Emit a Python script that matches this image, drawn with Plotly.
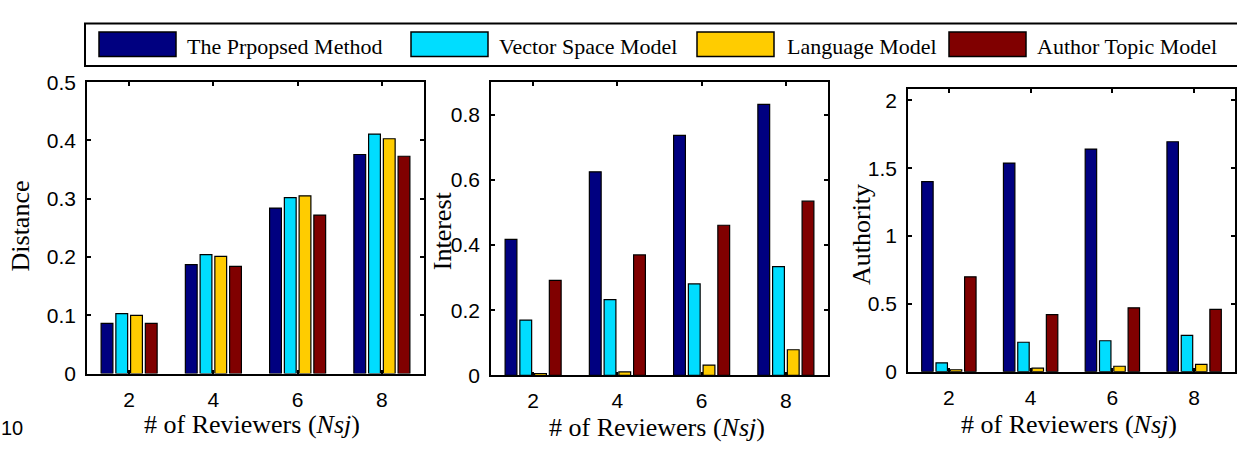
import plotly.graph_objects as go

reviewers = [2, 4, 6, 8]
series_names = ["The Prpopsed Method", "Vector Space Model", "Language Model", "Author Topic Model"]
series_colors = ["#000080", "#00DDFF", "#FFCC00", "#800000"]

distance_proposed = [0.086, 0.187, 0.284, 0.376]
distance_vsm = [0.103, 0.204, 0.302, 0.411]
distance_lm = [0.100, 0.201, 0.305, 0.403]
distance_atm = [0.086, 0.184, 0.272, 0.373]

interest_proposed = [0.418, 0.625, 0.737, 0.832]
interest_vsm = [0.170, 0.233, 0.281, 0.334]
interest_lm = [0.006, 0.011, 0.032, 0.079]
interest_atm = [0.292, 0.370, 0.461, 0.535]

authority_proposed = [1.401, 1.538, 1.641, 1.695]
authority_vsm = [0.065, 0.217, 0.228, 0.268]
authority_lm = [0.014, 0.026, 0.040, 0.054]
authority_atm = [0.699, 0.420, 0.471, 0.459]

y_titles = ["Distance", "Interest", "Authority"]
x_title = "# of Reviewers (<i>Nsj</i>)"
y_ticks = [[0, 0.1, 0.2, 0.3, 0.4, 0.5], [0, 0.2, 0.4, 0.6, 0.8], [0, 0.5, 1, 1.5, 2]]
y_ticktext = [["0", "0.1", "0.2", "0.3", "0.4", "0.5"], ["0", "0.2", "0.4", "0.6", "0.8"], ["0", "0.5", "1", "1.5", "2"]]
y_ranges = [[0, 0.5], [0, 0.9], [0, 2.085]]

panels = [
    [distance_proposed, distance_vsm, distance_lm, distance_atm],
    [interest_proposed, interest_vsm, interest_lm, interest_atm],
    [authority_proposed, authority_vsm, authority_lm, authority_atm],
]

W, H = 1237, 451
def px(x):
    return x / W
def py(y):
    return 1 - y / H

fig = go.Figure()
xdoms = [(87, 424), (491, 828), (908, 1235)]
ydoms = [(74, 381), (74, 383), (81, 379)]

for p, data in enumerate(panels):
    xa = "x" if p == 0 else f"x{p+1}"
    ya = "y" if p == 0 else f"y{p+1}"
    for s, vals in enumerate(data):
        fig.add_trace(go.Bar(
            x=reviewers, y=vals, name=series_names[s], xaxis=xa, yaxis=ya,
            marker=dict(color=series_colors[s], line=dict(color="black", width=1.2)),
            showlegend=False,
        ))

tickfont = dict(family="Liberation Sans, Arial", size=21, color="black")
axis_common = dict(showline=True, linecolor="black", linewidth=1.6, mirror="allticks",
                   ticks="inside", ticklen=4, tickwidth=1.5, tickcolor="black",
                   showgrid=False, zeroline=False, tickfont=tickfont)

layout = dict(
    width=W, height=H, margin=dict(l=0, r=0, t=0, b=0),
    paper_bgcolor="white", plot_bgcolor="white",
    barmode="group", bargap=0.3, bargroupgap=0.2,
    showlegend=False,
)
for p in range(3):
    xk = "xaxis" if p == 0 else f"xaxis{p+1}"
    yk = "yaxis" if p == 0 else f"yaxis{p+1}"
    ax = "x" if p == 0 else f"x{p+1}"
    ay = "y" if p == 0 else f"y{p+1}"
    layout[xk] = dict(domain=[px(xdoms[p][0]), px(xdoms[p][1])], range=[1, 9],
                      tickvals=reviewers, ticktext=[str(r) for r in reviewers],
                      anchor=ay, ticklabelstandoff=6, **axis_common)
    layout[yk] = dict(domain=[py(ydoms[p][1]), py(ydoms[p][0])], range=y_ranges[p],
                      tickvals=y_ticks[p], ticktext=y_ticktext[p],
                      anchor=ax, ticklabelstandoff=5, **axis_common)
fig.update_layout(**layout)

serif = "Liberation Serif, Times New Roman"
annotations = []
ytitle_pos = [(20, 226), (442, 231), (861, 235)]
xtitle_pos = [(252, 435), (657, 438), (1069, 435)]
for p in range(3):
    annotations.append(dict(x=px(ytitle_pos[p][0]), y=py(ytitle_pos[p][1]), xref="paper", yref="paper",
                            text=y_titles[p], textangle=-90, showarrow=False,
                            font=dict(family=serif, size=26, color="black"),
                            xanchor="center", yanchor="middle", borderpad=0))
    annotations.append(dict(x=px(xtitle_pos[p][0]), y=py(xtitle_pos[p][1]), xref="paper", yref="paper",
                            text=x_title, showarrow=False,
                            font=dict(family=serif, size=26, color="black"),
                            xanchor="center", yanchor="middle", borderpad=0))
# stray exponent label at bottom-left
annotations.append(dict(x=0, y=0, xref="paper", yref="paper", text="10", showarrow=False,
                        font=dict(family="Liberation Sans, Arial", size=20, color="black"),
                        xanchor="left", yanchor="bottom", borderpad=0))

# legend drawn manually
shapes = [dict(type="rect", xref="paper", yref="paper", x0=px(85), x1=px(1240), y0=py(57), y1=py(12),
               line=dict(color="black", width=2), fillcolor="rgba(0,0,0,0)")]
swatch_x = [99, 411, 697, 949]
text_x = [185, 497, 785, 1035]
for s in range(4):
    shapes.append(dict(type="rect", xref="paper", yref="paper", x0=px(swatch_x[s]), x1=px(swatch_x[s] + 77),
                       y0=py(47), y1=py(21), line=dict(color="black", width=1.5),
                       fillcolor=series_colors[s]))
    annotations.append(dict(x=px(text_x[s]), y=py(36), xref="paper", yref="paper", text=series_names[s],
                            showarrow=False, xanchor="left", yanchor="middle",
                            font=dict(family=serif, size=22, color="black")))
fig.update_layout(annotations=annotations, shapes=shapes)

fig.write_html("out.html")
